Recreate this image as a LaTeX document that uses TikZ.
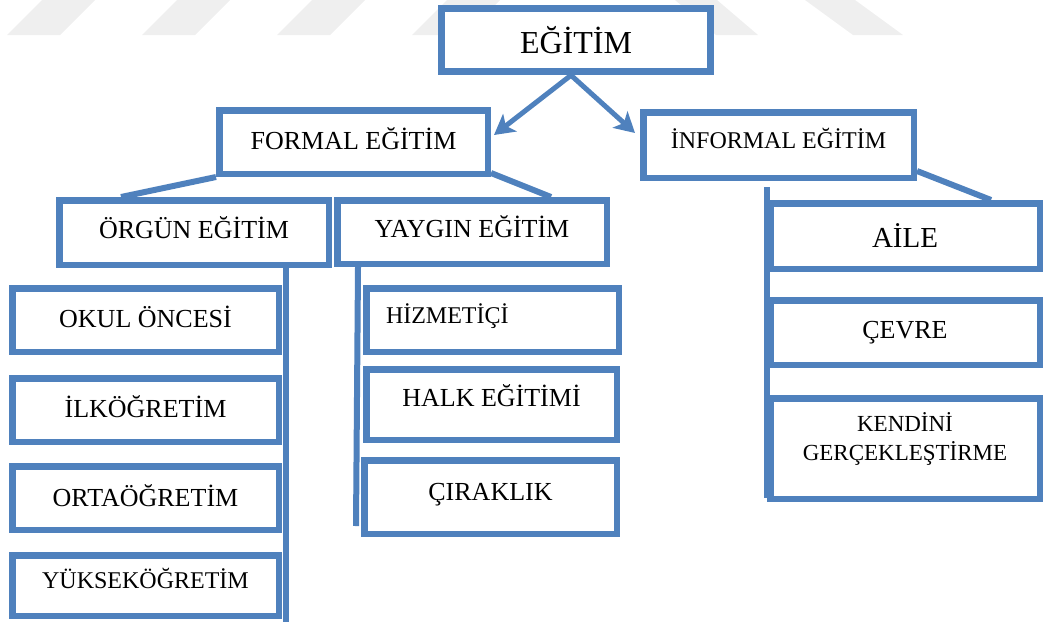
\documentclass[tikz,border=0pt]{standalone}
\usepackage{fontspec}
\setmainfont{Liberation Serif}
\usetikzlibrary{positioning,calc,arrows.meta}
\definecolor{boxblue}{HTML}{4F81BD}
\definecolor{wmgray}{HTML}{EFEFEF}

\begin{document}
\begin{tikzpicture}[x=1pt,y=-1pt,
  box/.style={draw=boxblue,line width=6.5pt,fill=white,inner sep=0pt,minimum width=269.5pt,minimum height=63.5pt,font=\fontsize{26}{28}\selectfont},
  link/.style={draw=boxblue,line width=6pt},
  arrowlink/.style={draw=boxblue,line width=5pt,-{Stealth[length=20pt,width=22pt,inset=5pt]}}]
  \useasboundingbox (0,0) rectangle (1048,621);

  %watermark
  \foreach \k in {0,...,3}
    \fill[wmgray] (7+135*\k,35) -- (60+135*\k,35) -- (95+135*\k,0) -- (42+135*\k,0) -- cycle;
  \fill[wmgray] (675,0) -- (717,0) -- (758,35) -- (716,35) -- cycle;
  \fill[wmgray] (805,0) -- (855,0) -- (903,35) -- (853,35) -- cycle;

  %top
  \node[box,line width=7pt,font=\fontsize{32}{34}\selectfont] (egitim) at (576,40) {EĞİTİM};
  \node[box,minimum width=268.5pt,text depth=8pt] (formal) at (353.5,142) {FORMAL EĞİTİM};
  \node[box,minimum width=270.5pt,minimum height=65.5pt,font=\fontsize{24}{26}\selectfont,text depth=14pt] (informal) at (778.5,145) {İNFORMAL EĞİTİM};

  %formal
  \node[box,minimum height=64.5pt,text depth=10pt] (orgun) at (194,232.5) {ÖRGÜN EĞİTİM};
  \node[box,text depth=12pt] (yaygin) at (472,232) {YAYGIN EĞİTİM};
  \node[box,minimum width=266.5pt,text depth=6pt] (okul) at (145.5,320) {OKUL ÖNCESİ};
  \node[box,minimum width=266.5pt,text depth=8pt] (ilk) at (145.5,410) {İLKÖĞRETİM};
  \node[box,minimum width=266.5pt,text depth=6pt] (orta) at (145.5,498) {ORTAÖĞRETİM};
  \node[box,minimum width=266.5pt,minimum height=60.5pt,font=\fontsize{24}{26}\selectfont,text depth=14pt] (yuksek) at (145.5,585.5) {YÜKSEKÖĞRETİM};
  \node[box,minimum width=252.5pt,font=\fontsize{24}{26}\selectfont,text width=213pt,align=left,text depth=12pt] (hizmet) at (492.5,320) {HİZMETİÇİ};
  \node[box,minimum width=250.5pt,minimum height=70.5pt,text depth=18pt] (halk) at (491.5,404.5) {HALK EĞİTİMİ};
  \node[box,minimum width=252.5pt,minimum height=73.5pt,text depth=10pt] (cirak) at (490.5,497) {ÇIRAKLIK};

  %informal
  \node[box,minimum height=65.5pt,font=\fontsize{29}{31}\selectfont] (aile) at (905,236) {AİLE};
  \node[box,minimum height=64.5pt,text depth=6pt] (cevre) at (905,332.5) {ÇEVRE};
  \node[box,minimum height=100.5pt,font=\fontsize{23}{29}\selectfont,align=center,text depth=24pt] (kendini) at (905,448.5) {KENDİNİ\\GERÇEKLEŞTİRME};

  %connectors
  \draw[arrowlink] ([xshift=-5pt]egitim.south) -- ([xshift=3pt,yshift=7pt]formal.east);
  \draw[arrowlink] ([xshift=-5pt]egitim.south) -- ([xshift=-5pt,yshift=12pt]informal.west);
  \draw[link] (formal.south west) -- ([xshift=65pt]orgun.north west);
  \draw[link] ([yshift=4pt]formal.south east) -- ([xshift=-59pt]yaygin.north east);
  \draw[link] ([yshift=10pt]informal.south east) -- ([xshift=-52pt]aile.north east);
  \draw[link] ($(orgun.south -| okul.east)+(4,0)$) -- ($(yuksek.south east)+(4,3)$);
  \draw[link] ($(yaygin.south -| hizmet.west)+(-5,0)$) -- ($(cirak.south west)+(-5,-11)$);
  \draw[link] ($(informal.south -| aile.west)+(0,6)$) -- ($(kendini.south west)+(0,-4)$);
\end{tikzpicture}
\end{document}
